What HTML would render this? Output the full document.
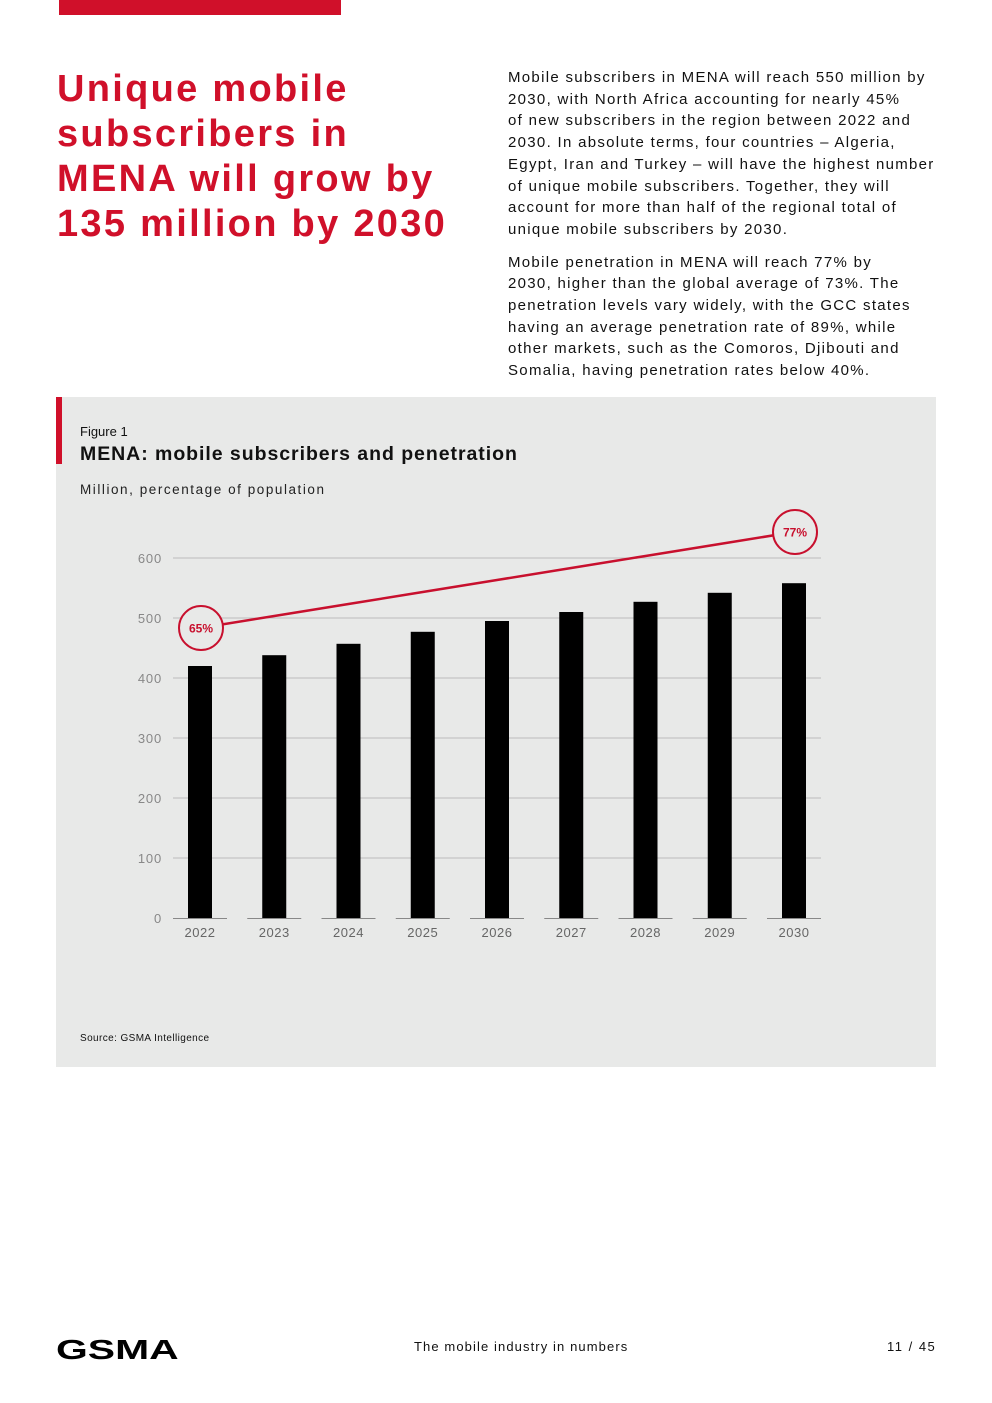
<!DOCTYPE html>
<html><head><meta charset="utf-8"><style>
body{margin:0;width:992px;height:1403px;background:#fff;font-family:"Liberation Sans",sans-serif;position:relative;overflow:hidden}
.a{position:absolute}
</style></head><body>
<div class="a" style="left:59px;top:0;width:282px;height:15px;background:#d0102a"></div>
<div class="a" style="left:57px;top:67px;width:440px;font-size:38px;line-height:45px;font-weight:bold;color:#d0102a;letter-spacing:2.3px;white-space:nowrap">Unique mobile<br>subscribers in<br>MENA will grow by<br>135 million by 2030</div>
<div class="a" style="left:508px;top:67px;width:440px;font-size:15px;line-height:21.7px;color:#111;letter-spacing:1.3px;white-space:nowrap">
<p style="margin:0 0 11px">Mobile subscribers in MENA will reach 550 million by<br>2030, with North Africa accounting for nearly 45%<br>of new subscribers in the region between 2022 and<br>2030. In absolute terms, four countries – Algeria,<br>Egypt, Iran and Turkey – will have the highest number<br>of unique mobile subscribers. Together, they will<br>account for more than half of the regional total of<br>unique mobile subscribers by 2030.</p>
<p style="margin:0">Mobile penetration in MENA will reach 77% by<br>2030, higher than the global average of 73%. The<br>penetration levels vary widely, with the GCC states<br>having an average penetration rate of 89%, while<br>other markets, such as the Comoros, Djibouti and<br>Somalia, having penetration rates below 40%.</p></div>
<div class="a" style="left:56px;top:397px;width:880px;height:670px;background:#e8e9e8"></div>
<div class="a" style="left:56px;top:397px;width:6px;height:67px;background:#d0102a"></div>
<div class="a" style="left:80px;top:424px;font-size:13px;color:#111">Figure 1</div>
<div class="a" style="left:80px;top:443px;font-size:19.5px;font-weight:bold;color:#111;letter-spacing:0.95px">MENA: mobile subscribers and penetration</div>
<div class="a" style="left:80px;top:482px;font-size:13.5px;color:#222;letter-spacing:1.55px">Million, percentage of population</div>
<svg class="a" style="left:0;top:0" width="992" height="1100" id="chart"></svg>
<div class="a" style="left:80px;top:1033px;font-size:10px;color:#111;letter-spacing:0.4px">Source: GSMA Intelligence</div>
<div class="a" style="left:56px;top:1334px;font-size:28px;font-weight:900;color:#000;transform:scaleX(1.46);transform-origin:left">GSMA</div>
<div class="a" style="left:414px;top:1339px;font-size:13px;color:#111;letter-spacing:1.1px">The mobile industry in numbers</div>
<div class="a" style="left:887px;top:1339px;font-size:13px;color:#111;letter-spacing:1.5px">11 / 45</div>
<script>
const years=["2022","2023","2024","2025","2026","2027","2028","2029","2030"];
const subscribers=[420,438,457,477,495,510,527,542,558];
const penetration=[65,66.5,68,69.5,71,72.5,74,75.5,77];
const yTicks=[0,100,200,300,400,500,600];
const NS="http://www.w3.org/2000/svg";
const svg=document.getElementById('chart');
const y=v=>918-v*0.6;
const x=i=>200+i*74.25;
const yp=p=>628-(p-65)*8;
function mk(t,a){const e=document.createElementNS(NS,t);for(const k in a)e.setAttribute(k,a[k]);svg.appendChild(e);return e;}
yTicks.forEach(v=>{
 if(v>0){const g=mk('line',{x1:173,x2:821,y1:y(v),y2:y(v),stroke:'#bcbcbc','stroke-width':1});
 
 }
 const t=mk('text',{x:162,y:y(v)+5,'text-anchor':'end','font-size':13,fill:'#888','font-family':'Liberation Sans, sans-serif','letter-spacing':'0.8'});
 t.textContent=v;
 
 
});
years.forEach((yr,i)=>{
 const b=mk('rect',{x:x(i)-12,y:y(subscribers[i]),width:24,height:subscribers[i]*0.6,fill:'#000'});
 
 
 const bl=mk('line',{x1:x(i)-27,x2:x(i)+27,y1:918.5,y2:918.5,stroke:'#888','stroke-width':1});
 
 
 const t=mk('text',{x:x(i),y:937,'text-anchor':'middle','font-size':13,fill:'#666','font-family':'Liberation Sans, sans-serif','letter-spacing':'0.5'});
 t.textContent=yr;
 
 
});
const pts=penetration.map((p,i)=>x(i)+','+yp(p)).join(' ');
const pl=mk('polyline',{points:pts,fill:'none',stroke:'#c8102e','stroke-width':2.5});


[0,penetration.length-1].forEach(i=>{
 const c=mk('circle',{cx:x(i)+1,cy:yp(penetration[i]),r:22,fill:'#e8e9e8',stroke:'#c8102e','stroke-width':2});
 
 
 const t=mk('text',{x:x(i)+1,y:yp(penetration[i])+4.5,'text-anchor':'middle','font-size':12,'font-weight':'bold',fill:'#c8102e','font-family':'Liberation Sans, sans-serif'});
 t.textContent=penetration[i]+'%';
 
 
});
</script>
</body></html>
